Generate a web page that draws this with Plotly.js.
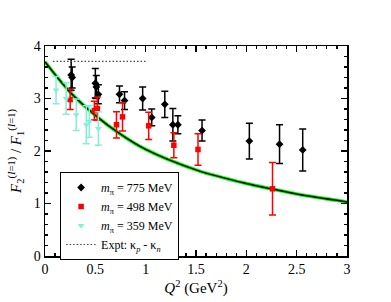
<!DOCTYPE html>
<html>
<head>
<meta charset="utf-8">
<script src="https://cdn.plot.ly/plotly-3.0.1.min.js"></script>
<style>html,body{margin:0;padding:0;background:#fff;}#chart{width:391px;height:302px;}</style>
</head>
<body>
<div id="chart"></div>
<script>
// m_pi = 775 MeV
const blackX   = [0.26, 0.27, 0.50, 0.51, 0.53, 0.74, 0.79, 0.97, 1.06, 1.19, 1.27, 1.32, 1.56, 2.03, 2.33, 2.56];
const blackY   = [3.45, 3.40, 3.29, 3.22, 3.08, 3.08, 2.96, 3.00, 2.64, 2.89, 2.50, 2.50, 2.39, 2.19, 2.13, 2.02];
const blackErr = [0.30, 0.20, 0.28, 0.22, 0.18, 0.16, 0.17, 0.22, 0.16, 0.25, 0.31, 0.17, 0.20, 0.34, 0.37, 0.40];
// m_pi = 498 MeV
const redX   = [0.25, 0.49, 0.52, 0.71, 0.77, 1.03, 1.28, 1.52, 2.26];
const redY   = [2.98, 2.77, 2.81, 2.50, 2.65, 2.48, 2.11, 2.03, 1.28];
const redErr = [0.19, 0.18, 0.22, 0.25, 0.27, 0.26, 0.24, 0.30, 0.50];
// m_pi = 359 MeV
const cyanX   = [0.11, 0.21, 0.31, 0.41, 0.44, 0.53];
const cyanY   = [3.16, 3.00, 2.69, 2.50, 2.56, 2.43];
const cyanErr = [0.26, 0.30, 0.30, 0.36, 0.30, 0.32];
// experimental kappa_p - kappa_n
const exptX = [0.08, 1.0];
const exptY = [3.706, 3.706];
// fit curve
const fitX = [0, 0.25, 0.5, 0.75, 1.0, 1.5, 2.0, 2.25, 2.5, 3.0];
const fitY = [3.70, 3.12, 2.68, 2.32, 2.03, 1.64, 1.38, 1.28, 1.18, 1.03];

const serif = 'Times New Roman, Liberation Serif, DejaVu Serif, serif';
const cyanCol = '#80f0d8';

const traces = [
  {x: fitX, y: fitY, mode: 'lines', line: {color: '#00ff00', width: 3.5, shape: 'spline'}, showlegend: false, hoverinfo: 'skip'},
  {x: fitX, y: fitY, mode: 'lines', line: {color: '#000000', width: 1.5, shape: 'spline'}, showlegend: false, hoverinfo: 'skip'},
  {x: blackX, y: blackY, mode: 'markers', name: '<i>m</i><sub>π</sub> = 775 MeV',
   marker: {symbol: 'diamond', size: 6, color: '#000'},
   error_y: {type: 'data', array: blackErr, color: '#000', thickness: 1.5, width: 3.5}},
  {x: redX, y: redY, mode: 'markers', name: '<i>m</i><sub>π</sub> = 498 MeV',
   marker: {symbol: 'square', size: 5.5, color: '#ff0000'},
   error_y: {type: 'data', array: redErr, color: '#ff0000', thickness: 1.5, width: 3.5}},
  {x: cyanX, y: cyanY, mode: 'markers', name: '<i>m</i><sub>π</sub> = 359 MeV',
   marker: {symbol: 'triangle-down', size: 6, color: cyanCol},
   error_y: {type: 'data', array: cyanErr, color: cyanCol, thickness: 1.5, width: 3.5}},
  {x: exptX, y: exptY, mode: 'lines', name: 'Expt: κ<sub><i>p</i></sub> - κ<sub><i>n</i></sub>',
   line: {color: '#444', width: 1.2, dash: '1.5px,2px'}}
];

const axisCommon = {
  showline: true, linecolor: '#000', linewidth: 1.5, mirror: 'allticks',
  ticks: 'inside', ticklen: 6, tickwidth: 1.2, tickcolor: '#000',
  showgrid: false, zeroline: false,
  tickfont: {family: serif, size: 14, color: '#000'}
};

const layout = {
  width: 391, height: 302,
  margin: {l: 45, r: 44, t: 46, b: 46},
  paper_bgcolor: '#fff', plot_bgcolor: '#fff',
  showlegend: true,
  font: {family: serif, color: '#000'},
  xaxis: Object.assign({}, axisCommon, {
    range: [0, 3], dtick: 0.5, tick0: 0,
    minor: {dtick: 0.1, ticks: 'inside', ticklen: 3, tickcolor: '#000', showgrid: false},
    title: {text: '<i>Q</i><sup>2</sup> (GeV<sup>2</sup>)', font: {family: serif, size: 15, color: '#000'}, standoff: 6}
  }),
  yaxis: Object.assign({}, axisCommon, {
    range: [0, 4], dtick: 1, tick0: 0,
    minor: {dtick: 0.2, ticks: 'inside', ticklen: 3, tickcolor: '#000', showgrid: false},
    title: {text: '<i>F</i><sub>2</sub><sup>(<i>I</i>=1)</sup> / <i>F</i><sub>1</sub><sup>(<i>I</i>=1)</sup>', font: {family: serif, size: 15, color: '#000'}, standoff: 8}
  }),
  legend: {
    x: 0.05, y: 0.40, xanchor: 'left', yanchor: 'top',
    bordercolor: '#000', borderwidth: 1, bgcolor: '#fff',
    font: {family: serif, size: 12, color: '#000'},
    itemwidth: 30, tracegroupgap: 0
  }
};

Plotly.newPlot('chart', traces, layout, {displayModeBar: false, staticPlot: true});
</script>
</body>
</html>
